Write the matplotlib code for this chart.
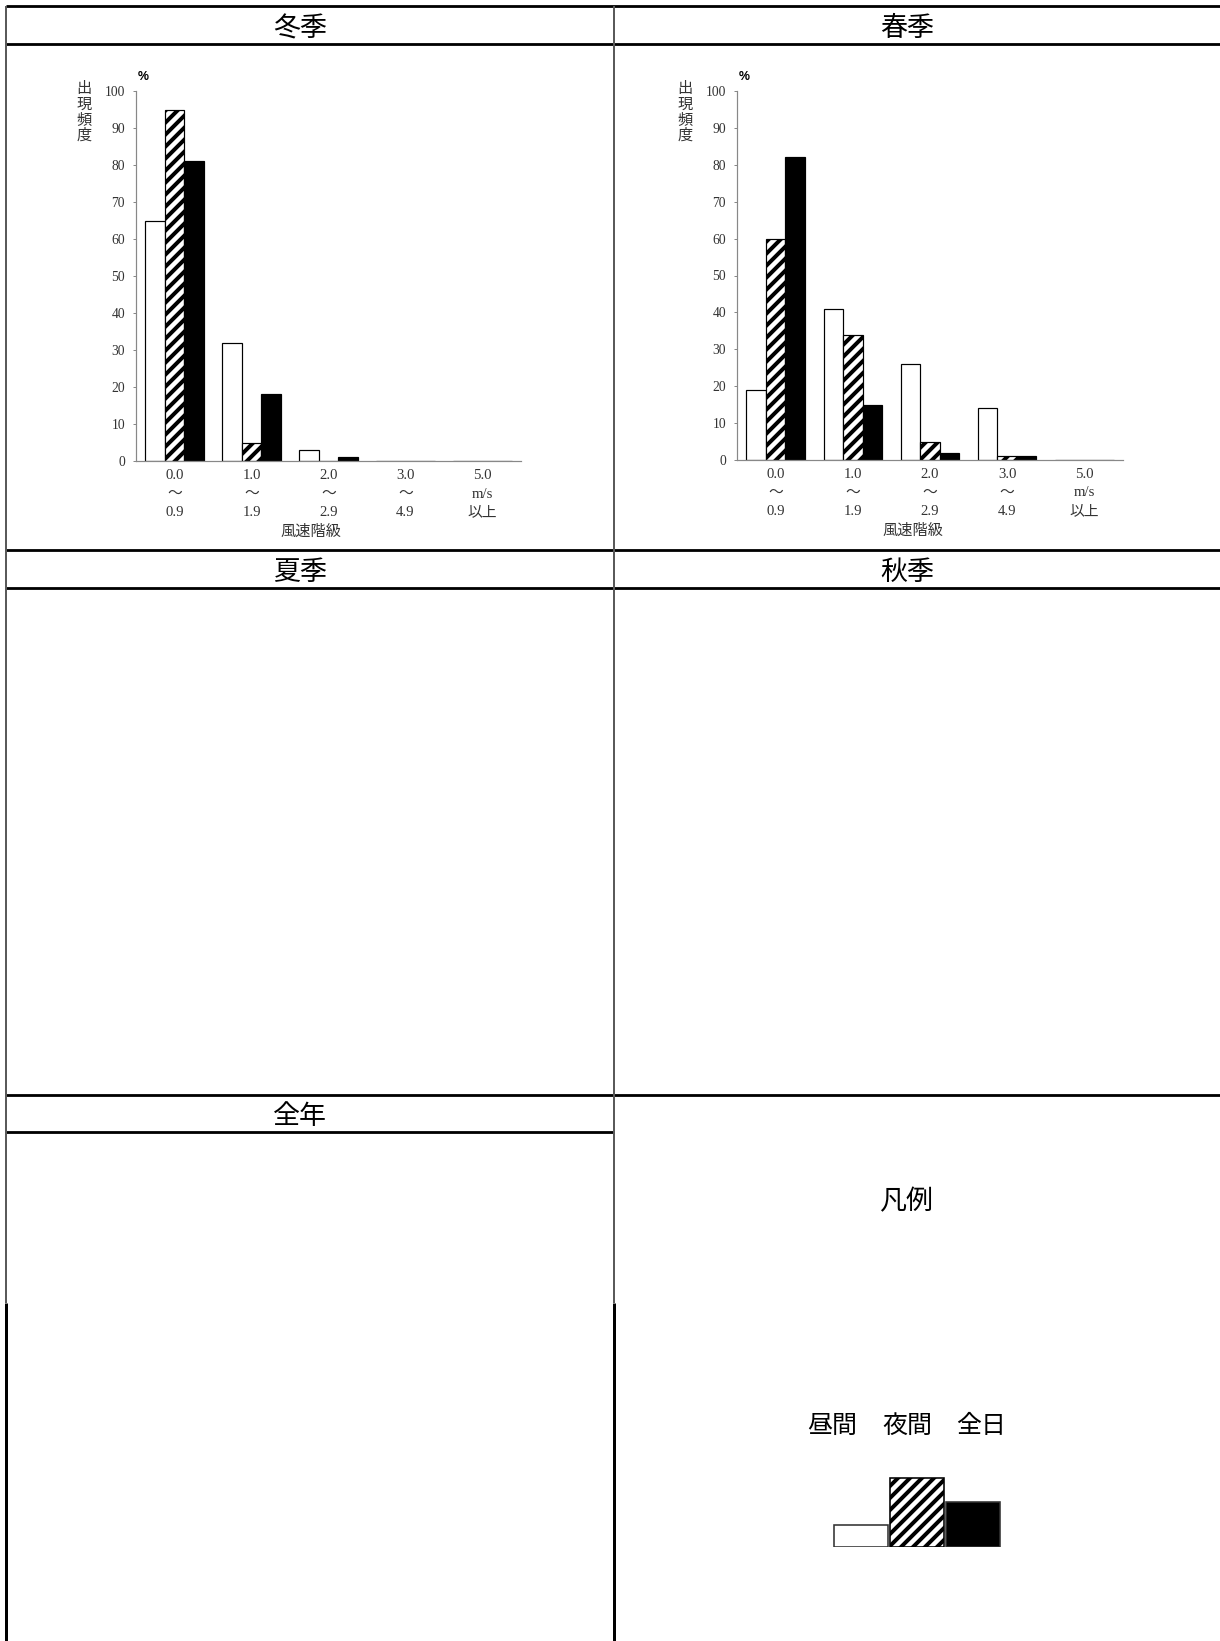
import matplotlib.pyplot as plt

# 風速階級別出現頻度
categorias = ["0.0\n～\n0.9", "1.0\n～\n1.9", "2.0\n～\n2.9", "3.0\n～\n4.9", "5.0\nm/s\n以上"]
series = ["昼間", "夜間", "全日"]

invierno_dia = [65, 32, 3, 0, 0]
invierno_noche = [95, 5, 0, 0, 0]
invierno_total = [81, 18, 1, 0, 0]

primavera_dia = [19, 41, 26, 14, 0]
primavera_noche = [60, 34, 5, 1, 0]
primavera_total = [82, 15, 2, 1, 0]

yticks = list(range(0, 101, 10))
leyenda_valores = [1.0, 3.1, 2.0]

plt.rcParams['hatch.linewidth'] = 2.0
CJK = 'Noto Sans CJK JP'
SERIF = ['Liberation Serif', CJK]

W, H, DPI = 1220, 1641, 144
fig = plt.figure(figsize=(W / DPI, H / DPI), dpi=DPI)

# fondo con la tabla (coordenadas en pixeles)
bg = fig.add_axes([0, 0, 1, 1])
bg.set_xlim(0, W)
bg.set_ylim(H, 0)
bg.axis('off')

for y in [6, 44, 550, 588, 1095]:
    bg.plot([6, W], [y, y], color='black', lw=1.4, solid_capstyle='butt')
bg.plot([6, 614], [1132, 1132], color='black', lw=1.4, solid_capstyle='butt')
for x in [6, 614]:
    bg.plot([x, x], [6, 1303], color='#5a5a5a', lw=1.0, solid_capstyle='butt')
    bg.plot([x, x], [1303, H], color='black', lw=1.5, solid_capstyle='butt')

for txt, x, y in [("冬季", 300, 29), ("春季", 907, 29), ("夏季", 300, 572),
                  ("秋季", 907, 572), ("全年", 300, 1116), ("凡例", 906, 1202)]:
    bg.text(x, y, txt, ha='center', va='center', fontsize=13.5, family=CJK)

for txt, x in zip(series, [832, 907, 981]):
    bg.text(x, 1426, txt, ha='center', va='center', fontsize=12.5, family=CJK)


def grafico(rect, dia, noche, total):
    ax = fig.add_axes([rect[0] / W, 1 - rect[3] / H, (rect[2] - rect[0]) / W, (rect[3] - rect[1]) / H])
    ancho = 0.253
    pos = range(len(categorias))
    ax.bar([p - ancho for p in pos], dia, width=ancho, color='white', edgecolor='black', lw=0.6)
    ax.bar(list(pos), noche, width=ancho, color='white', edgecolor='black', hatch='////', lw=0.6)
    ax.bar([p + ancho for p in pos], total, width=ancho, color='black', edgecolor='black', lw=0.6)
    ax.set_xlim(-0.5, len(categorias) - 0.5)
    ax.set_ylim(0, 100)
    ax.set_yticks(yticks)
    ax.set_yticklabels([str(v) for v in yticks], family=SERIF, fontsize=6.8, color='#333333')
    ax.set_xticks(list(pos))
    ax.set_xticklabels(categorias, family=SERIF, fontsize=7.4, color='#333333', linespacing=1.55)
    ax.tick_params(axis='y', length=1.5, width=0.5, color='#888888', pad=4)
    ax.tick_params(axis='x', length=0, pad=4)
    for s in ['top', 'right']:
        ax.spines[s].set_visible(False)
    for s in ['left', 'bottom']:
        ax.spines[s].set_color('#888888')
        ax.spines[s].set_linewidth(0.6)
    ax.text(0.455, -0.19, "風速階級", transform=ax.transAxes, ha='center', va='center',
            fontsize=7.6, family=CJK, color='#333333')
    ax.text(-0.135, 1.03, "出\n現\n頻\n度", transform=ax.transAxes, ha='center', va='top',
            fontsize=7.6, family=CJK, color='#333333', linespacing=0.9)
    ax.text(0.02, 1.037, "%", transform=ax.transAxes, ha='center', va='center',
            fontsize=6.2, family='Liberation Sans', fontweight='bold')
    return ax


grafico((136, 91, 521, 461), invierno_dia, invierno_noche, invierno_total)
grafico((737, 91, 1123, 460), primavera_dia, primavera_noche, primavera_total)

# leyenda
axl = fig.add_axes([833 / W, 1 - 1547 / H, 168 / W, 70 / H])
axl.bar([0], leyenda_valores[:1], width=0.97, color='white', edgecolor='#333333', lw=0.8)
axl.bar([1], leyenda_valores[1:2], width=0.97, color='white', edgecolor='black', hatch='////', lw=0.8)
axl.bar([2], leyenda_valores[2:], width=0.97, color='black', edgecolor='#333333', lw=0.8)
axl.set_xlim(-0.5, 2.5)
axl.set_ylim(0, max(leyenda_valores) * 1.01)
axl.axis('off')

plt.savefig("out.png", dpi=DPI)
